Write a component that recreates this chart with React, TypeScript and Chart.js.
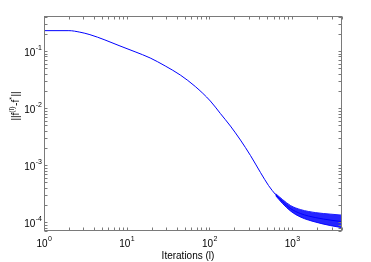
import React, { useEffect, useRef } from "react";
import { Chart, registerables } from "chart.js";

Chart.register(...registerables);

// Main convergence curve
const iterations = [1, 2, 2.71, 3.59, 5.45, 8.29, 12.6, 19.2, 29.2, 44.4, 67.4, 102.5, 135.6, 179.3, 237, 313.6, 414.6, 518.6, 630.6, 766.9, 959, 1268.6, 1928.6, 2933, 4000];
const errorNorm = [0.2271, 0.2271, 0.2137, 0.1932, 0.156, 0.1224, 0.0968, 0.0754, 0.0546, 0.0379, 0.02383, 0.01327, 0.00801, 0.00483, 0.002746, 0.001468, 0.000738, 0.000437, 0.000304, 0.000229, 0.0001725, 0.000141, 0.00012, 0.0001084, 0.000102];

// Envelope of the noisy tail
const tailIterations = [630.6, 766.9, 959, 1268.6, 1928.6, 2933, 4000];
const tailUpper = [0.000316, 0.000248, 0.0001948, 0.0001657, 0.0001468, 0.0001381, 0.0001327];
const tailLower = [0.0002916, 0.0002111, 0.000156, 0.0001224, 0.0001, 0.0000868, 0.00008];

const xMin = 1;
const xMax = 4000;
const yMin = 7e-5;
const yMax = 0.41;

const xTitle = "Iterations (l)";
const FONT = '"Liberation Sans", Arial, Helvetica, sans-serif';

function logTickValues(min: number, max: number) {
  const out: { v: number; major: boolean; e: number }[] = [];
  const e0 = Math.floor(Math.log10(min));
  const e1 = Math.ceil(Math.log10(max));
  for (let e = e0; e <= e1; e++) {
    for (let m = 1; m < 10; m++) {
      const v = m * Math.pow(10, e);
      if (v >= min * 0.9999 && v <= max * 1.0001) out.push({ v, major: m === 1, e });
    }
  }
  return out;
}

const matlabAxes = {
  id: "matlabAxes",
  afterDraw(chart: any) {
    const { ctx, chartArea: a, scales } = chart;
    const xs = scales.x;
    const ys = scales.y;
    ctx.save();
    const L = a.left + 0.5, R = a.right - 0.5, T = a.top + 0.5, B = a.bottom - 0.5;
    ctx.strokeStyle = "#7a7a7a";
    ctx.lineWidth = 1;
    ctx.strokeRect(L, T, R - L, B - T);

    const tickLen = 3;
    ctx.beginPath();
    const xt = logTickValues(xs.min, xs.max);
    xt.forEach((t) => {
      const px = Math.round(xs.getPixelForValue(t.v)) + 0.5;
      ctx.moveTo(px, B); ctx.lineTo(px, B - tickLen);
      ctx.moveTo(px, T); ctx.lineTo(px, T + tickLen);
    });
    const yt = logTickValues(ys.min, ys.max);
    yt.forEach((t) => {
      const py = Math.round(ys.getPixelForValue(t.v)) + 0.5;
      ctx.moveTo(L, py); ctx.lineTo(L + tickLen, py);
      ctx.moveTo(R, py); ctx.lineTo(R - tickLen, py);
    });
    ctx.stroke();

    // tick labels: 10^e
    ctx.fillStyle = "#000";
    ctx.textBaseline = "alphabetic";
    ctx.textAlign = "left";
    const baseFont = "10px " + FONT;
    const expFont = "7px " + FONT;
    xt.filter((t) => t.major).forEach((t) => {
      const px = xs.getPixelForValue(t.v);
      ctx.font = baseFont;
      const wb = ctx.measureText("10").width;
      ctx.font = expFont;
      const es = String(t.e);
      const we = ctx.measureText(es).width;
      const x0 = px - (wb + we) / 2;
      ctx.font = baseFont;
      ctx.fillText("10", x0, 247);
      ctx.font = expFont;
      ctx.fillText(es, x0 + wb + 0.5, 241);
    });
    yt.filter((t) => t.major).forEach((t) => {
      const py = ys.getPixelForValue(t.v);
      ctx.font = expFont;
      const es = String(t.e);
      const we = ctx.measureText(es).width;
      ctx.font = baseFont;
      const wb = ctx.measureText("10").width;
      const x1 = a.left - 2;
      ctx.fillText("10", x1 - we - wb - 0.5, py + 5);
      ctx.font = expFont;
      ctx.fillText(es, x1 - we, py - 1);
    });

    // x title
    ctx.font = baseFont;
    ctx.textAlign = "center";
    ctx.fillText(xTitle, (a.left + a.right) / 2 - 5, 259);

    // y title: ||f^(l)-f^*||
    ctx.save();
    ctx.translate(19, 106);
    ctx.rotate(-Math.PI / 2);
    ctx.textAlign = "left";
    const parts: [string, boolean][] = [["||f", false], ["(l)", true], ["-f", false], ["*", true], ["||", false]];
    let total = 0;
    parts.forEach(([s, sup]) => {
      ctx.font = sup ? expFont : baseFont;
      total += ctx.measureText(s).width + (sup ? 0.5 : 0);
    });
    let cx = -total / 2;
    parts.forEach(([s, sup]) => {
      ctx.font = sup ? expFont : baseFont;
      ctx.fillText(s, cx, sup ? -5 : 0);
      cx += ctx.measureText(s).width + (sup ? 0.5 : 0);
    });
    ctx.restore();

    ctx.restore();
  },
};

export default function App() {
  const ref = useRef<HTMLCanvasElement | null>(null);
  useEffect(() => {
    if (!ref.current) return;
    const chart = new Chart(ref.current, {
      type: "line",
      data: {
        datasets: [
          {
            label: "tail upper",
            data: tailIterations.map((x, i) => ({ x, y: tailUpper[i] })),
            borderColor: "#1a1aff",
            backgroundColor: "rgba(0,0,255,0.85)",
            borderWidth: 1,
            pointRadius: 0,
            fill: "+1",
            cubicInterpolationMode: "monotone",
          },
          {
            label: "tail lower",
            data: tailIterations.map((x, i) => ({ x, y: tailLower[i] })),
            borderColor: "#1a1aff",
            borderWidth: 1,
            pointRadius: 0,
            fill: false,
            cubicInterpolationMode: "monotone",
          },
          {
            label: "||f(l)-f*||",
            data: iterations.map((x, i) => ({ x, y: errorNorm[i] })),
            borderColor: "#0000ff",
            borderWidth: 1,
            pointRadius: 0,
            fill: false,
            cubicInterpolationMode: "monotone",
          },
        ],
      },
      options: {
        animation: false,
        responsive: false,
        layout: { padding: { left: 44, top: 16, right: 29, bottom: 31 } },
        plugins: { legend: { display: false }, tooltip: { enabled: false } },
        scales: {
          x: { type: "logarithmic", min: xMin, max: xMax, bounds: "data", display: false },
          y: { type: "logarithmic", min: yMin, max: yMax, bounds: "data", display: false },
        },
      },
      plugins: [matlabAxes],
    });
    return () => chart.destroy();
  }, []);
  return (
    <div style={{ position: "fixed", left: 0, top: 0, width: 371, height: 262, background: "#fff" }}>
      <canvas ref={ref} width={371} height={262} style={{ display: "block" }} />
    </div>
  );
}
